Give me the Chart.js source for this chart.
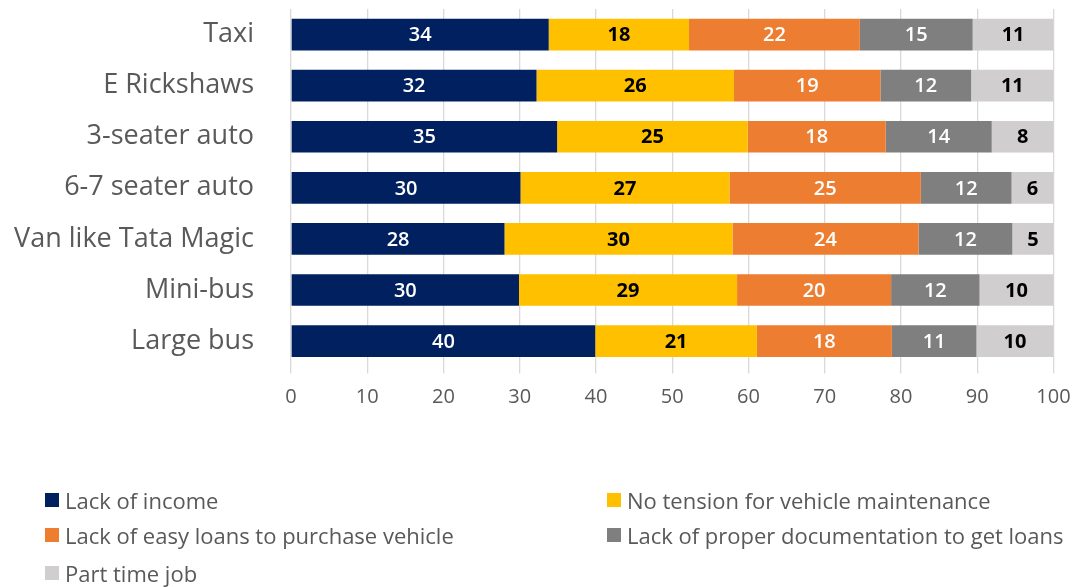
<!DOCTYPE html>
<html>
<head>
<meta charset="utf-8">
<script src="https://cdn.jsdelivr.net/npm/chart.js@4/dist/chart.umd.min.js"></script>
<style>
  html, body { margin: 0; padding: 0; background: #ffffff; }
  #wrap { position: relative; width: 1076px; height: 587px; overflow: hidden; }
  #chart { position: absolute; left: 0; top: 0; }
  #legend { position: absolute; left: 0; top: 0; width: 1076px; height: 587px; pointer-events: none;
            font-family: "Open Sans", sans-serif; font-size: 22px; color: #595959; }
  .item { position: absolute; display: flex; align-items: center; white-space: nowrap; height: 30px; }
  .box { width: 14px; height: 14px; margin-right: 6px; }
</style>
</head>
<body>
<div id="wrap">
  <canvas id="chart" width="1076" height="587"></canvas>
  <div id="legend"></div>
</div>
<script>
// ---- data ----
const categories = ["Taxi", "E Rickshaws", "3-seater auto", "6-7 seater auto", "Van like Tata Magic", "Mini-bus", "Large bus"];
const seriesNames = ["Lack of income", "No tension for vehicle maintenance", "Lack of easy loans to purchase vehicle", "Lack of proper documentation to get loans", "Part time job"];
const lackOfIncome      = [33.8, 32.2, 34.9, 30.1, 28.0, 29.9, 39.9];
const noTension         = [18.4, 25.9, 25.0, 27.4, 29.9, 28.6, 21.2];
const lackOfEasyLoans   = [22.4, 19.2, 18.1, 25.1, 24.4, 20.2, 17.7];
const lackOfDocuments   = [14.8, 11.9, 13.9, 11.9, 12.3, 11.6, 11.1];
const partTimeJob       = [10.6, 10.8,  8.1,  5.5,  5.4,  9.7, 10.1];
const xTicks = [0, 10, 20, 30, 40, 50, 60, 70, 80, 90, 100];

const seriesValues = [lackOfIncome, noTension, lackOfEasyLoans, lackOfDocuments, partTimeJob];
const colors = ["#002060", "#FFC000", "#ED7D31", "#7F7F7F", "#D0CECE"];
const labelColors = ["#ffffff", "#000000", "#ffffff", "#ffffff", "#000000"];
const labelWeights = ["600", "bold", "600", "600", "bold"];

const datasets = seriesValues.map((vals, i) => ({
  label: seriesNames[i],
  data: vals,
  backgroundColor: colors[i],
  borderWidth: 0,
  barPercentage: 0.62,
  categoryPercentage: 1.0
}));

const valueLabels = {
  id: 'valueLabels',
  afterDatasetsDraw(chart) {
    const ctx = chart.ctx;
    ctx.save();
    ctx.textAlign = 'center';
    ctx.textBaseline = 'middle';
    chart.data.datasets.forEach((ds, di) => {
      const meta = chart.getDatasetMeta(di);
      meta.data.forEach((bar, j) => {
        const v = ds.data[j];
        ctx.font = labelWeights[di] + ' 20px "Open Sans", sans-serif';
        ctx.fillStyle = labelColors[di];
        ctx.fillText(String(Math.round(v)), (bar.x + bar.base) / 2, bar.y + 1);
      });
    });
    ctx.restore();
  }
};

const TARGET_TOP = 9, TARGET_BOTTOM = 366.6;

new Chart(document.getElementById('chart'), {
  type: 'bar',
  data: { labels: categories, datasets: datasets },
  options: {
    indexAxis: 'y',
    responsive: false,
    animation: false,
    layout: { padding: { top: TARGET_TOP, right: 22.5, bottom: 0, left: 0 } },
    plugins: { legend: { display: false }, tooltip: { enabled: false } },
    scales: {
      x: {
        stacked: true,
        min: 0, max: 100,
        afterBuildTicks(scale) { scale.ticks = xTicks.map(v => ({ value: v })); },
        afterFit(scale) {
          scale.height = 587 - TARGET_BOTTOM;
          scale.paddingTop = 0; scale.paddingBottom = 0; scale.paddingLeft = 0; scale.paddingRight = 0;
        },
        grid: { color: '#d9d9d9', lineWidth: 1.3, tickLength: 7, drawTicks: true },
        border: { display: false },
        ticks: { color: '#595959', font: { family: '"Open Sans", sans-serif', size: 20 }, padding: 12, maxRotation: 0 }
      },
      y: {
        stacked: true,
        afterFit(scale) { scale.width = 291; scale.paddingTop = 0; scale.paddingBottom = 0; },
        grid: { display: false, drawTicks: false },
        border: { display: false },
        ticks: { color: '#595959', font: { family: '"Open Sans", sans-serif', size: 27 }, padding: 37 }
      }
    }
  },
  plugins: [valueLabels]
});

// ---- legend ----
const legendPos = [[45, 499.5], [607, 499.5], [45, 535], [607, 535], [45, 572.5]];
const legend = document.getElementById('legend');
seriesNames.forEach((name, i) => {
  const item = document.createElement('div');
  item.className = 'item';
  item.style.left = legendPos[i][0] + 'px';
  item.style.top = (legendPos[i][1] - 15) + 'px';
  const box = document.createElement('div');
  box.className = 'box';
  box.style.background = colors[i];
  const txt = document.createElement('span');
  txt.textContent = name;
  item.appendChild(box);
  item.appendChild(txt);
  legend.appendChild(item);
});
</script>
</body>
</html>
